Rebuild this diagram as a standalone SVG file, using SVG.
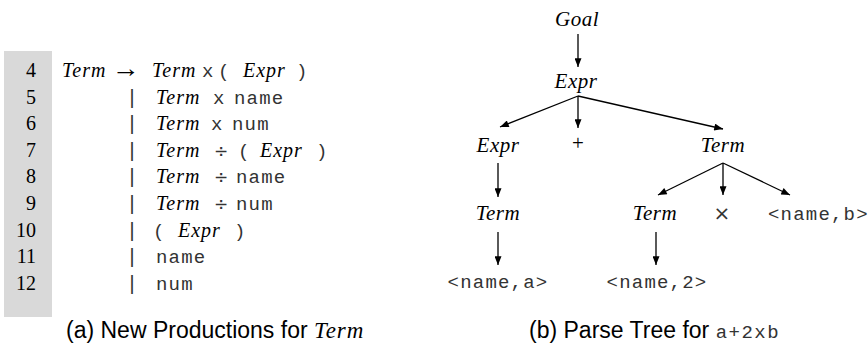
<svg xmlns="http://www.w3.org/2000/svg" width="868" height="345" viewBox="0 0 868 345">
<style>
.num{font-family:"Liberation Serif",serif;font-size:20px;fill:#000;text-anchor:end}
.it{font-family:"Liberation Serif",serif;font-style:italic;font-size:20px;letter-spacing:1px;fill:#000}
.tt{font-family:"Liberation Mono",monospace;font-size:19px;letter-spacing:1.2px;fill:#333}
.sym{font-family:"DejaVu Sans",sans-serif;font-size:17px;fill:#333}
.bar{font-family:"Liberation Mono",monospace;font-size:20px;fill:#333}
.cap{font-family:"Liberation Sans",sans-serif;font-size:23px;fill:#000}
.node{font-family:"Liberation Serif",serif;font-style:italic;font-size:21px;letter-spacing:0.5px;fill:#000;text-anchor:middle}
.leaf{font-family:"Liberation Mono",monospace;font-size:19px;letter-spacing:1.2px;fill:#333;text-anchor:middle}
.edge{stroke:#000;stroke-width:1.3;fill:none;marker-end:url(#ah)}
</style>
<defs>
<marker id="ah" viewBox="0 0 10 8" refX="10" refY="4" markerWidth="10" markerHeight="7" markerUnits="userSpaceOnUse" orient="auto">
<path d="M0,0 L10,4 L0,8 Z" fill="#000"/>
</marker>
</defs>
<rect x="4" y="51" width="48" height="266" fill="#d9d9d9"/>
<g id="productions">
<text class="num" x="36" y="77">4</text>
<text class="num" x="36" y="103.6">5</text>
<text class="num" x="36" y="130.2">6</text>
<text class="num" x="36" y="156.8">7</text>
<text class="num" x="36" y="183.4">8</text>
<text class="num" x="36" y="210">9</text>
<text class="num" x="36" y="236.6">10</text>
<text class="num" x="36" y="263.2">11</text>
<text class="num" x="36" y="289.8">12</text>
<text class="it" x="62" y="77">Term</text>
<text x="112" y="77" font-family="Liberation Serif" font-size="26" textLength="28" lengthAdjust="spacingAndGlyphs">→</text>
<text class="it" x="152" y="77">Term</text>
<text class="tt" x="202" y="77">x</text>
<text class="tt" x="218" y="77">(</text>
<text class="it" x="243" y="77">Expr</text>
<text class="tt" x="296" y="77">)</text>
<text class="bar" x="126" y="103.6">|</text>
<text class="it" x="156" y="103.6">Term</text>
<text class="tt" x="213" y="103.6">x</text>
<text class="tt" x="234" y="103.6">name</text>
<text class="bar" x="126" y="130.2">|</text>
<text class="it" x="156" y="130.2">Term</text>
<text class="tt" x="211" y="130.2">x</text>
<text class="tt" x="232" y="130.2">num</text>
<text class="bar" x="126" y="156.8">|</text>
<text class="it" x="156" y="156.8">Term</text>
<text class="sym" x="214" y="156.8">÷</text>
<text class="tt" x="238" y="156.8">(</text>
<text class="it" x="260" y="156.8">Expr</text>
<text class="tt" x="316" y="156.8">)</text>
<text class="bar" x="126" y="183.4">|</text>
<text class="it" x="156" y="183.4">Term</text>
<text class="sym" x="214" y="183.4">÷</text>
<text class="tt" x="236" y="183.4">name</text>
<text class="bar" x="126" y="210">|</text>
<text class="it" x="156" y="210">Term</text>
<text class="sym" x="214" y="210">÷</text>
<text class="tt" x="236" y="210">num</text>
<text class="bar" x="126" y="236.6">|</text>
<text class="tt" x="153" y="236.6">(</text>
<text class="it" x="178" y="236.6">Expr</text>
<text class="tt" x="234" y="236.6">)</text>
<text class="bar" x="126" y="263.2">|</text>
<text class="tt" x="156" y="263.2">name</text>
<text class="bar" x="126" y="289.8">|</text>
<text class="tt" x="156" y="289.8">num</text>
</g>
<text class="cap" x="66" y="338">(a) New Productions for <tspan font-family="Liberation Serif" font-style="italic" letter-spacing="1px">Term</tspan></text>
<g id="connectors">
<path class="edge" d="M578,34 L578,67"/>
<path class="edge" d="M578,96 L500,127"/>
<path class="edge" d="M578,96 L578,128"/>
<path class="edge" d="M578,96 L723,129"/>
<path class="edge" d="M498,163 L498,197"/>
<path class="edge" d="M723,163 L658,195"/>
<path class="edge" d="M723,163 L723,195"/>
<path class="edge" d="M723,163 L790,195"/>
<path class="edge" d="M498,232 L498,265"/>
<path class="edge" d="M656,232 L656,265"/>
</g>
<g id="n-goal"><text class="node" x="577" y="26">Goal</text></g>
<g id="n-expr"><text class="node" x="576" y="88">Expr</text></g>
<g id="n-expr2"><text class="node" x="498" y="152">Expr</text></g>
<g id="n-plus"><text x="578" y="150" font-family="Liberation Serif" font-size="21" text-anchor="middle">+</text></g>
<g id="n-term1"><text class="node" x="723" y="152">Term</text></g>
<g id="n-term2"><text class="node" x="498" y="220">Term</text></g>
<g id="n-term3"><text class="node" x="655" y="220">Term</text></g>
<g id="n-times"><text x="722" y="220" font-family="DejaVu Sans" font-size="20" fill="#333" text-anchor="middle">×</text></g>
<g id="n-nameb"><text class="tt" x="768" y="220">&lt;name,b&gt;</text></g>
<g id="n-namea"><text class="leaf" x="498" y="288">&lt;name,a&gt;</text></g>
<g id="n-name2"><text class="leaf" x="657" y="288">&lt;name,2&gt;</text></g>
<text class="cap" x="529" y="338">(b) Parse Tree for <tspan font-family="Liberation Mono" font-size="19px" letter-spacing="1.5px" fill="#333">a+2xb</tspan></text>
</svg>
